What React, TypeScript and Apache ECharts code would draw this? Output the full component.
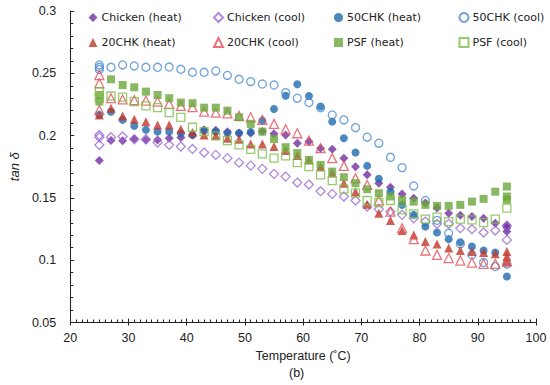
import React, { useEffect, useRef } from "react";
import * as echarts from "echarts";

const temps = [25, 27, 29, 31, 33, 35, 37, 39, 41, 43, 45, 47, 49, 51, 53, 55, 57, 59, 61, 63, 65, 67, 69, 71, 73, 75, 77, 79, 81, 83, 85, 87, 89, 91, 93, 95];

const chickenHeat = [0.180, 0.196, 0.1958, 0.1973, 0.1965, 0.1965, 0.1979, 0.1985, 0.2005, 0.2046, 0.2043, 0.203, 0.202, 0.2019, 0.2032, 0.2014, 0.2005, 0.1939, 0.1952, 0.1899, 0.1891, 0.1819, 0.1751, 0.1685, 0.1618, 0.1586, 0.1532, 0.1498, 0.146, 0.1418, 0.1377, 0.136, 0.135, 0.1337, 0.1297, 0.128];
const chickenHeatExtra = [[95, 0.126], [95, 0.123]];

const chickenCool = [0.1987, 0.1987, 0.1993, 0.1971, 0.1971, 0.1944, 0.1925, 0.1912, 0.1893, 0.1864, 0.1845, 0.1819, 0.1783, 0.1759, 0.1733, 0.1693, 0.1671, 0.1623, 0.1607, 0.1554, 0.1532, 0.1511, 0.1479, 0.1431, 0.1409, 0.139, 0.1364, 0.1337, 0.131, 0.1292, 0.1292, 0.1257, 0.1249, 0.1222, 0.1238, 0.1163];
const chickenCoolExtra = [[25, 0.2005], [25, 0.1925], [95, 0.1276]];

const chk50Heat = [0.2166, 0.2192, 0.2126, 0.2078, 0.2046, 0.2032, 0.2032, 0.2019, 0.2005, 0.2038, 0.2032, 0.2019, 0.2019, 0.203, 0.212, 0.2214, 0.232, 0.2412, 0.2318, 0.2233, 0.2112, 0.1979, 0.1864, 0.1757, 0.1653, 0.155, 0.1444, 0.1364, 0.127, 0.1222, 0.1169, 0.1144, 0.111, 0.1078, 0.1062, 0.0869];
const chk50HeatExtra: number[][] = [];

const chk50Cool = [0.2548, 0.2548, 0.2567, 0.2559, 0.2548, 0.2548, 0.255, 0.2532, 0.2508, 0.2508, 0.2519, 0.2483, 0.2452, 0.2433, 0.2414, 0.2406, 0.2345, 0.23, 0.2265, 0.2224, 0.2166, 0.2126, 0.2064, 0.1987, 0.1939, 0.1826, 0.1743, 0.1596, 0.1479, 0.132, 0.1217, 0.1131, 0.1043, 0.0981, 0.0949, 0.097];
const chk50CoolExtra = [[25, 0.2567], [25, 0.253]];

const chk20Heat = [0.2166, 0.222, 0.2158, 0.2131, 0.2112, 0.2086, 0.2086, 0.2051, 0.2024, 0.2005, 0.2, 0.1979, 0.1971, 0.1933, 0.1933, 0.1912, 0.188, 0.184, 0.1805, 0.175, 0.17, 0.1618, 0.155, 0.145, 0.1377, 0.1318, 0.1238, 0.1203, 0.115, 0.1131, 0.1097, 0.1078, 0.107, 0.1062, 0.1051, 0.107];
const chk20HeatExtra = [[95, 0.103], [95, 0.099]];

const chk20Cool = [0.2206, 0.23, 0.229, 0.2285, 0.228, 0.2273, 0.2254, 0.2238, 0.2228, 0.2192, 0.2184, 0.2178, 0.2158, 0.2147, 0.2126, 0.2094, 0.2051, 0.2019, 0.196, 0.1899, 0.1819, 0.1757, 0.1658, 0.1604, 0.148, 0.139, 0.1257, 0.1169, 0.1078, 0.1043, 0.1017, 0.0997, 0.0981, 0.0971, 0.0971, 0.0989];
const chk20CoolExtra = [[25, 0.2486], [25, 0.242]];

const psfHeat = [0.2273, 0.2452, 0.2406, 0.2388, 0.2353, 0.2326, 0.23, 0.2265, 0.226, 0.2224, 0.2224, 0.22, 0.2147, 0.2094, 0.2032, 0.1973, 0.1907, 0.1859, 0.1805, 0.1765, 0.1711, 0.1666, 0.1618, 0.157, 0.1538, 0.1511, 0.1484, 0.147, 0.1444, 0.1436, 0.1436, 0.1444, 0.147, 0.1492, 0.155, 0.1591];
const psfHeatExtra = [[25, 0.2326], [95, 0.1511], [95, 0.1484]];

const psfCool = [0.2353, 0.2318, 0.2308, 0.2273, 0.2238, 0.2224, 0.2184, 0.2147, 0.2067, 0.2032, 0.1997, 0.196, 0.1925, 0.189, 0.1853, 0.1819, 0.1837, 0.1783, 0.1751, 0.1685, 0.1639, 0.157, 0.1538, 0.1479, 0.1463, 0.1479, 0.1404, 0.1372, 0.133, 0.1346, 0.131, 0.133, 0.1324, 0.1302, 0.133, 0.1418];
const psfCoolExtra = [[25, 0.23]];

const seriesNames = ["Chicken (heat)", "Chicken (cool)", "50CHK (heat)", "50CHK (cool)", "20CHK (heat)", "20CHK (cool)", "PSF (heat)", "PSF (cool)"];

export default function App() {
  const ref = useRef<HTMLDivElement>(null);
  useEffect(() => {
    if (!ref.current) return;
    const chart = echarts.init(ref.current, undefined, { renderer: "svg" });
    const mk = (vals: number[], extra: number[][]) =>
      temps.map((t, i) => [t, vals[i]]).concat(extra);

    const defs = [
      { name: seriesNames[0], data: mk(chickenHeat, chickenHeatExtra), symbol: "diamond", size: 9, color: "#7030A0", hollow: false },
      { name: seriesNames[1], data: mk(chickenCool, chickenCoolExtra), symbol: "diamond", size: 9, color: "#9B6ACF", hollow: true },
      { name: seriesNames[2], data: mk(chk50Heat, chk50HeatExtra), symbol: "circle", size: 8, color: "#1F6AAE", hollow: false },
      { name: seriesNames[3], data: mk(chk50Cool, chk50CoolExtra), symbol: "circle", size: 8, color: "#4A8BD0", hollow: true },
      { name: seriesNames[4], data: mk(chk20Heat, chk20HeatExtra), symbol: "triangle", size: 9, color: "#C0372C", hollow: false },
      { name: seriesNames[5], data: mk(chk20Cool, chk20CoolExtra), symbol: "triangle", size: 9, color: "#E5505A", hollow: true },
      { name: seriesNames[6], data: mk(psfHeat, psfHeatExtra), symbol: "rect", size: 8, color: "#6AA63A", hollow: false },
      { name: seriesNames[7], data: mk(psfCool, psfCoolExtra), symbol: "rect", size: 8, color: "#7DBE4A", hollow: true },
    ];

    const colX = [88.5, 213, 334, 458.5];
    const rowY = [12, 37];
    const legends = defs.map((d, i) => ({
      show: true,
      data: [d.name],
      left: colX[i % 4],
      top: rowY[Math.floor(i / 4)],
      itemWidth: 9,
      itemHeight: 9,
      itemGap: 0,
      textStyle: { fontFamily: "DejaVu Sans", fontSize: 11, color: "#222", padding: [0, 0, 0, -1] },
      padding: 0,
      selectedMode: false,
    }));

    chart.setOption({
      animation: false,
      backgroundColor: "#fff",
      grid: { left: 61.5, right: 14, top: 11, bottom: 62.5, containLabel: false },
      legend: legends,
      xAxis: [
        {
          type: "value",
          min: 20,
          max: 100,
          interval: 10,
          position: "bottom",
          name: "Temperature (˚C)",
          nameLocation: "middle",
          nameGap: 26,
          nameTextStyle: { fontFamily: "Liberation Sans", fontSize: 12.5, color: "#222" },
          axisLine: { show: true, lineStyle: { color: "#222", width: 1 } },
          axisTick: { show: true, inside: true, length: 4, lineStyle: { color: "#222" } },
          minorTick: { show: true, splitNumber: 10, length: 3, lineStyle: { color: "#222" } },
          axisLabel: { fontFamily: "Liberation Sans", fontSize: 12.5, color: "#222", margin: 9 },
          splitLine: { show: false },
        },
        {
          type: "value",
          min: 20,
          max: 100,
          interval: 10,
          position: "bottom",
          axisLine: { show: false },
          axisTick: { show: true, inside: false, length: 3, lineStyle: { color: "#222" } },
          axisLabel: { show: false },
          splitLine: { show: false },
        },
      ],
      yAxis: {
        type: "value",
        min: 0.05,
        max: 0.3,
        interval: 0.05,
        name: "tan δ",
        nameLocation: "middle",
        nameGap: 44,
        nameRotate: 90,
        nameTextStyle: { fontFamily: "Liberation Sans", fontStyle: "italic", fontSize: 13, color: "#222" },
        axisLine: { show: true, lineStyle: { color: "#222", width: 1 } },
        axisTick: { show: true, inside: true, length: 4, lineStyle: { color: "#222" } },
        minorTick: { show: true, splitNumber: 5, length: 3, lineStyle: { color: "#222" } },
        axisLabel: {
          fontFamily: "Liberation Sans",
          fontSize: 12.5,
          color: "#222",
          margin: 14,
          formatter: (v: number) => String(Number(v.toFixed(2))),
        },
        splitLine: { show: false },
      },
      graphic: [
        {
          type: "text",
          left: 289,
          top: 366,
          style: { text: "(b)", fontFamily: "Liberation Sans", fontSize: 12.5, fill: "#222" },
        },
      ],
      series: defs.map((d) => ({
        type: "scatter",
        name: d.name,
        data: d.data,
        symbol: d.symbol,
        symbolSize: d.size,
        itemStyle: d.hollow
          ? { color: "rgba(255,255,255,0)", borderColor: d.color, borderWidth: 1.3 }
          : { color: d.color, borderWidth: 0 },
        emphasis: { disabled: true },
      })),
    });
    return () => chart.dispose();
  }, []);
  return <div ref={ref} style={{ width: 550, height: 385, position: "absolute", left: 0, top: 0 }} />;
}
